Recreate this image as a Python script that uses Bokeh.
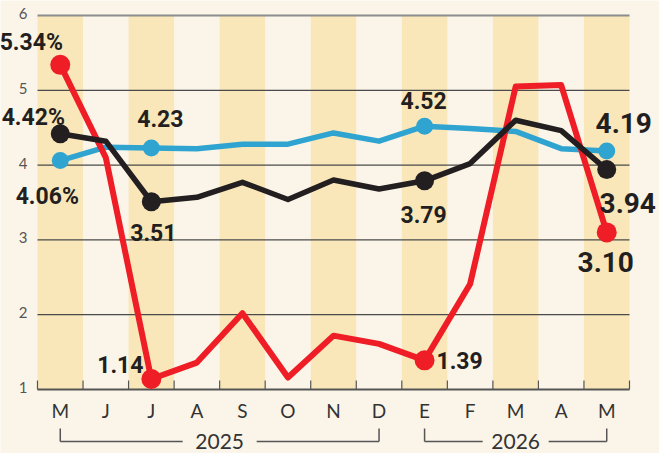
from bokeh.plotting import figure
from bokeh.models import ColumnDataSource
from bokeh.core.properties import value
from bokeh.embed import file_html
from bokeh.resources import INLINE

# ---------------- data ----------------
months = ["M", "J", "J", "A", "S", "O", "N", "D", "E", "F", "M", "A", "M"]
red_vals = [5.34, 4.10, 1.14, 1.36, 2.02, 1.16, 1.72, 1.61, 1.39, 2.41, 5.05, 5.07, 3.10]
black_vals = [4.42, 4.32, 3.51, 3.57, 3.77, 3.54, 3.80, 3.68, 3.79, 4.02, 4.60, 4.46, 3.94]
blue_vals = [4.06, 4.24, 4.23, 4.22, 4.28, 4.28, 4.43, 4.32, 4.52, 4.49, 4.45, 4.22, 4.19]
marked_idx = [0, 2, 8, 12]
years = ["2025", "2026"]
year_first = [0, 8]
year_last = [7, 12]
y_ticks = [1, 2, 3, 4, 5, 6]

# ---------------- style ----------------
BG = "#FBF5E9"
BAND = "#F9E7BA"
RED = "#EE1D26"
BLACK = "#231F20"
BLUE = "#2FA4D0"
LABEL_FONT = "Roboto"
AXIS_FONT = "Lato"

W, H = 659, 453
PLOT_LEFT, PLOT_RIGHT, PLOT_BOTTOM = 37, 629, 389   # pixel box of the data area
PX_PER_UNIT = 74.8
n = len(months)
x = list(range(n))
band_px = (PLOT_RIGHT - PLOT_LEFT) / n
x_start = -0.5 - PLOT_LEFT / band_px
x_end = n - 0.5 + (W - PLOT_RIGHT) / band_px
y_base = min(y_ticks)
y_start = y_base - (H - PLOT_BOTTOM) / PX_PER_UNIT
y_end = y_base + PLOT_BOTTOM / PX_PER_UNIT


def dy(px):  # pixel distance -> data units (vertical)
    return px / PX_PER_UNIT


p = figure(width=W, height=H, output_backend="svg", toolbar_location=None,
           x_range=(x_start, x_end), y_range=(y_start, y_end),
           min_border=0)
p.background_fill_color = BG
p.border_fill_color = BG
p.outline_line_color = None
p.grid.visible = False
p.axis.visible = False

left_edge, right_edge = -0.5, n - 0.5

# alternating bands
band_x = [i for i in x if i % 2 == 0]
p.quad(left=[i - 0.5 for i in band_x], right=[i + 0.5 for i in band_x],
       bottom=[min(y_ticks)] * len(band_x), top=[max(y_ticks)] * len(band_x),
       fill_color=BAND, line_color=None)

# horizontal grid lines
inner = y_ticks[1:-1]
p.segment(x0=[left_edge] * len(inner), x1=[right_edge] * len(inner), y0=inner, y1=inner,
          line_color="#4a4a4a", line_width=1.2)
p.segment(x0=[left_edge], x1=[right_edge], y0=[y_ticks[-1]], y1=[y_ticks[-1]],
          line_color="#8c8c8c", line_width=2.2)

# x axis: baseline, inward ticks at band boundaries, month labels
bounds = [i - 0.5 for i in range(n + 1)]
p.segment(x0=bounds, x1=bounds, y0=[y_base] * len(bounds), y1=[y_base + dy(9)] * len(bounds),
          line_color="#555555", line_width=1.2)
p.segment(x0=[left_edge], x1=[right_edge], y0=[y_base], y1=[y_base],
          line_color="#555555", line_width=2)
p.text(x=x, y=[y_base] * n, text=months, y_offset=21,
       text_font=value(AXIS_FONT), text_font_size="19px", text_color="#333333",
       text_align="center", text_baseline="middle")

# y axis labels
p.text(x=[left_edge] * len(y_ticks), y=y_ticks, text=[str(t) for t in y_ticks],
       x_offset=-10, y_offset=-2,
       text_font=value(AXIS_FONT), text_font_size="15px", text_color="#555555",
       text_align="right", text_baseline="middle")

# year brackets
bx0, by0, bx1, by1 = [], [], [], []
line_y = y_base - dy(52)
tick_top = y_base - dy(39)
for a, b in zip(year_first, year_last):
    bx0 += [a, a, b]; by0 += [tick_top, line_y, line_y]
    bx1 += [a, b, b]; by1 += [line_y, line_y, tick_top]
p.segment(x0=bx0, y0=by0, x1=bx1, y1=by1, line_color="#555555", line_width=1.5)
mid = [(a + b) / 2 for a, b in zip(year_first, year_last)]
p.rect(x=mid, y=[line_y] * len(mid), width=[74, 66], height=20,
       width_units="screen", height_units="screen", fill_color=BG, line_color=None)
p.text(x=mid, y=[line_y] * len(mid), text=years,
       text_font=value(AXIS_FONT), text_font_size="21px", text_color="#333333",
       text_align="center", text_baseline="middle")

# series lines
p.line(x, blue_vals, line_color=BLUE, line_width=5.5, line_join="round")
p.line(x, red_vals, line_color=RED, line_width=6, line_join="round")
p.line(x, black_vals, line_color=BLACK, line_width=5.5, line_join="round")

p.scatter([x[i] for i in marked_idx], [blue_vals[i] for i in marked_idx],
          size=17, fill_color=BLUE, line_color=None)
p.scatter([x[i] for i in marked_idx], [red_vals[i] for i in marked_idx],
          size=20, fill_color=RED, line_color=None)
p.scatter([x[i] for i in marked_idx], [black_vals[i] for i in marked_idx],
          size=19, fill_color=BLACK, line_color=None)

# value labels (offsets are pixel styles; +y = down)
small_offsets = {
    "red": [(-29, -22), (-31, -15), (35, 0)],
    "black": [(-27, -16), (2, 31), (-1, 34)],
    "blue": [(-13, 36), (9, -29), (-1, -26)],
}
last_offsets = {"red": (-1, 30), "black": (21, 33), "blue": (17, -28)}
series = {"red": red_vals, "black": black_vals, "blue": blue_vals}

lx, ly, lt, lxo, lyo = [], [], [], [], []
bx, by, bt, bxo, byo = [], [], [], [], []
for name, vals in series.items():
    for k, i in enumerate(marked_idx):
        txt = f"{vals[i]:.2f}"
        if i == marked_idx[-1]:
            bx.append(x[i]); by.append(vals[i]); bt.append(txt)
            bxo.append(last_offsets[name][0]); byo.append(last_offsets[name][1])
        else:
            if i == 0:
                txt += "%"
            lx.append(x[i]); ly.append(vals[i]); lt.append(txt)
            lxo.append(small_offsets[name][k][0]); lyo.append(small_offsets[name][k][1])

src_small = ColumnDataSource(dict(x=lx, y=ly, t=lt, xo=lxo, yo=lyo))
src_big = ColumnDataSource(dict(x=bx, y=by, t=bt, xo=bxo, yo=byo))
p.text(x="x", y="y", text="t", x_offset="xo", y_offset="yo", source=src_small,
       text_font=value(LABEL_FONT), text_font_style="bold",
       text_font_size="23px", text_color=BLACK,
       text_align="center", text_baseline="middle")
p.text(x="x", y="y", text="t", x_offset="xo", y_offset="yo", source=src_big,
       text_font=value(LABEL_FONT), text_font_style="bold",
       text_font_size="28px", text_color=BLACK,
       text_align="center", text_baseline="middle")

open("out.html", "w").write(file_html(p, INLINE))
